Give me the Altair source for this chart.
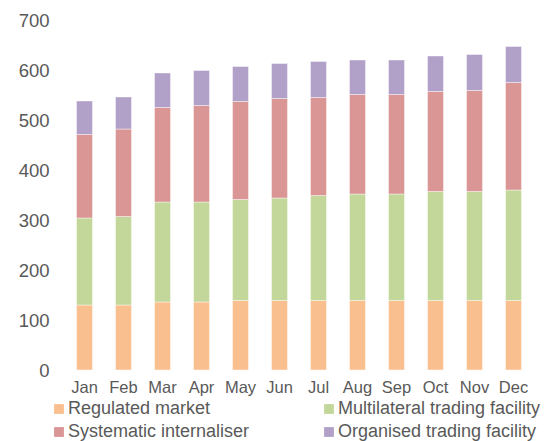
import altair as alt
import pandas as pd

months = ["Jan", "Feb", "Mar", "Apr", "May", "Jun", "Jul", "Aug", "Sep", "Oct", "Nov", "Dec"]
series_names = ["Regulated market", "Multilateral trading facility",
                "Systematic internaliser", "Organised trading facility"]
regulated = [130, 130, 136, 136, 139, 139, 139, 139, 139, 139, 139, 139]
mtf = [174, 177, 200, 200, 202, 205, 210, 213, 213, 218, 218, 221]
si = [167, 175, 189, 193, 196, 199, 196, 199, 199, 200, 202, 215]
otf = [67, 64, 69, 70, 70, 70, 72, 69, 69, 71, 72, 72]
colors = ["#FABF8F", "#C4D79B", "#DA9694", "#B1A0C7"]
y_ticks = [0, 100, 200, 300, 400, 500, 600, 700]

rows = []
for idx, (name, vals) in enumerate(zip(series_names, [regulated, mtf, si, otf])):
    for m, v in zip(months, vals):
        rows.append({"month": m, "series": name, "value": v, "idx": idx})
df = pd.DataFrame(rows)

FONT = "Liberation Sans"
GREY = "#595959"

chart = alt.Chart(df).mark_bar(stroke="white", strokeWidth=0.6, strokeOpacity=0.7).encode(
    x=alt.X("month:N", sort=months,
            scale=alt.Scale(paddingInner=0.59, paddingOuter=0.295),
            axis=alt.Axis(title=None, labelAngle=0, ticks=False, domain=False,
                          labelFontSize=16.5, labelColor=GREY, labelFont=FONT,
                          labelPadding=9)),
    y=alt.Y("value:Q", stack="zero",
            scale=alt.Scale(domain=[0, 700], nice=False),
            axis=alt.Axis(title=None, values=y_ticks, grid=False, domain=False, ticks=False,
                          labelFontSize=18.5, labelColor=GREY, labelFont=FONT,
                          labelPadding=16)),
    color=alt.Color("series:N",
                    scale=alt.Scale(domain=series_names, range=colors),
                    legend=alt.Legend(title=None, orient="none", legendX=-15, legendY=380,
                                      columns=2, direction="horizontal",
                                      symbolType="square", symbolSize=96,
                                      symbolStrokeWidth=0, symbolOpacity=1,
                                      labelFontSize=18, labelColor=GREY, labelFont=FONT,
                                      labelOffset=0, columnPadding=70, rowPadding=5,
                                      padding=0, labelLimit=400)),
    order=alt.Order("idx:Q", sort="ascending"),
).properties(
    width=468,
    height=350,
    title=alt.TitleParams("Growth of SI since entry into force of MiFID II",
                          anchor="start", frame="group", fontSize=22, font="DejaVu Sans",
                          fontWeight="normal", color="#1a1a1a", offset=8, dx=-55,
                          baseline="alphabetic"),
    padding={"left": 57, "top": 12, "right": 13, "bottom": 72},
    autosize="none",
).configure_view(stroke=None)

chart.save("out.html", embed_options={"renderer": "svg", "actions": False})
